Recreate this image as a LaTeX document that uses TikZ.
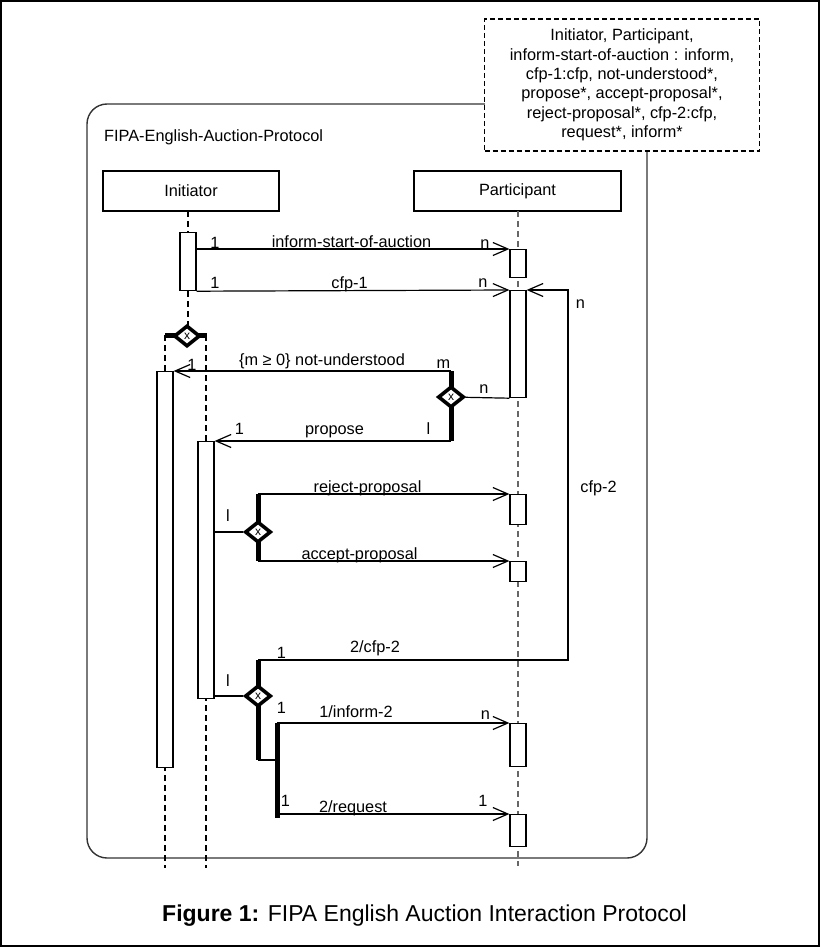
\documentclass[tikz,border=0pt]{standalone}
\usepackage{fontspec}
\setmainfont{Liberation Sans}
\usetikzlibrary{arrows.meta,shapes.geometric}

\tikzset{
  txt/.style={font=\fontsize{16.3}{19.3}\selectfont, inner sep=0pt, anchor=base},
  head/.style={draw, line width=1.2pt, minimum height=40pt, inner sep=0pt, font=\fontsize{16.3}{19.3}\selectfont},
  act/.style={draw, fill=white, line width=1.2pt, minimum width=16pt, inner sep=0pt, anchor=north},
  life/.style={line width=1.1pt, dash pattern=on 6pt off 4pt},
  msg/.style={line width=1.2pt, -{Straight Barb[length=15pt,width=13pt,line width=1.2pt]}},
  wire/.style={line width=1.2pt},
  bar/.style={line width=5pt},
  xor/.style={diamond, draw, fill=white, line width=3.6pt, minimum width=26pt, minimum height=21pt, inner sep=0pt, font=\fontsize{12}{12}\selectfont}
}

\begin{document}
\begin{tikzpicture}[x=1pt,y=-1pt]
\useasboundingbox (0,0) rectangle (820,947);
\draw[line width=1.5pt] (1,1) rectangle (819,946);
\draw[line width=1.4pt, black!80, rounded corners=20pt] (87,104) rectangle (647,858);
\node[txt, anchor=base west] (title) at (104,141) {FIPA-English-Auction-Protocol};
\node[draw, fill=white, line width=1.5pt, dash pattern=on 5pt off 3pt, minimum width=275pt, minimum height=132pt,
  inner sep=0pt, align=center, font=\fontsize{16.3}{19.3}\selectfont] (note) at (622,85)
  {Initiator, Participant,\\ inform-start-of-auction : inform,\\ cfp-1:cfp, not-understood*,\\
   propose*, accept-proposal*,\\ reject-proposal*, cfp-2:cfp,\\ request*, inform*};

% lifelines
\node[head, minimum width=176pt] (ini) at (191,191) {Initiator};
\node[head, minimum width=207pt] (par) at (517.5,191) {Participant};
\draw[life] (188,211) -- (188,336);
\draw[life] (165,335) -- (165,868);
\draw[life] (206,335) -- (206,868);
\draw[life, black!60] (518,211) -- (518,866);

% activations
\node[act, minimum height=58pt] (ini0) at (188,232) {};
\node[act, minimum height=396pt] (ini1) at (165,371) {};
\node[act, minimum height=257pt] (ini2) at (206,441) {};
\node[act, minimum height=28pt] (p1) at (518,249) {};
\node[act, minimum height=107pt] (p2) at (518,290) {};
\node[act, minimum height=30pt] (p3) at (518,494) {};
\node[act, minimum height=20pt] (p4) at (518,561) {};
\node[act, minimum height=43pt] (p5) at (518,723) {};
\node[act, minimum height=32pt] (p6) at (518,814) {};

% xor gates
\coordinate (g0l) at (165,335); \coordinate (g0r) at (207,335);
\coordinate (g1t) at (451,371); \coordinate (g1b) at (451,441);
\coordinate (g2t) at (258,494); \coordinate (g2b) at (258,561);
\coordinate (g3t) at (258,660); \coordinate (g3b) at (258,760);
\coordinate (g4t) at (277,723); \coordinate (g4m) at (277,760);
\coordinate (g4b) at (277,818); \coordinate (g4r) at (277,814);
\coordinate (loopB) at (568,660); \coordinate (loopT) at (568,290);
\draw[bar] (g0l) -- (g0r);
\draw[bar] (g1t) -- (g1b);
\draw[bar] (g2t) -- (g2b);
\draw[bar] (g3t) -- (g3b);
\draw[bar] (g4t) -- (g4b);
\node[xor] (g0) at (187,336) {x};
\node[xor] (g1) at (451,397) {x};
\node[xor] (g2) at (258,532) {x};
\node[xor] (g3) at (258,696) {x};

% messages
\draw[msg] (ini0.east |- p1.north) -- (p1.north west);
\draw[msg] (ini0.south east) -- (p2.north west);
\draw[wire] (p2.south west) -- (g1);
\draw[msg] (g1t) -- (ini1.north east);
\draw[msg] (g1b) -- (ini2.north east);
\draw[wire] (ini2.east |- g2) -- (g2);
\draw[msg] (g2t) -- (p3.north west);
\draw[msg] (g2b) -- (p4.north west);
\draw[wire] (ini2.east |- g3) -- (g3);
\draw[msg] (g3t) -- (loopB) -- (loopT) -- (p2.north east);
\draw[wire] (g3b) -- (g4m);
\draw[msg] (g4t) -- (p5.north west);
\draw[msg] (g4r) -- (p6.north west);

% labels
\node[txt] (m1a) at (215,248) {1};
\node[txt] (m1) at (351.5,247) {inform-start-of-auction};
\node[txt] (m1b) at (485,248) {n};
\node[txt] (m2a) at (215,288) {1};
\node[txt] (m2) at (349.5,288) {cfp-1};
\node[txt] (m2b) at (483,287) {n};
\node[txt] (m3a) at (192,370) {1};
\node[txt] (m3) at (322,365) {\{m ≥ 0\} not-understood};
\node[txt] (m3b) at (443.5,368) {m};
\node[txt] (m3c) at (484,393) {n};
\node[txt] (m4a) at (239.5,434) {1};
\node[txt] (m4) at (334.5,434) {propose};
\node[txt] (m4b) at (428.5,434) {l};
\node[txt] (m5) at (367.5,492) {reject-proposal};
\node[txt] (m5a) at (228,521) {l};
\node[txt] (m6) at (359.5,559) {accept-proposal};
\node[txt] (m7a) at (281.5,658) {1};
\node[txt] (m7) at (375,652) {2/cfp-2};
\node[txt] (m7b) at (580.5,308) {n};
\node[txt] (m7c) at (598.5,492) {cfp-2};
\node[txt] (m8a) at (228,686) {l};
\node[txt] (m8b) at (281.5,713) {1};
\node[txt] (m8) at (356,717) {1/inform-2};
\node[txt] (m8c) at (485.5,719) {n};
\node[txt] (m9a) at (285.5,806) {1};
\node[txt] (m9) at (353,812) {2/request};
\node[txt] (m9b) at (483,806) {1};

\node[anchor=base, inner sep=0pt, font=\fontsize{23}{27}\selectfont] (caption) at (424.5,921)
  {\textbf{Figure 1:} FIPA English Auction Interaction Protocol};
\end{tikzpicture}
\end{document}
